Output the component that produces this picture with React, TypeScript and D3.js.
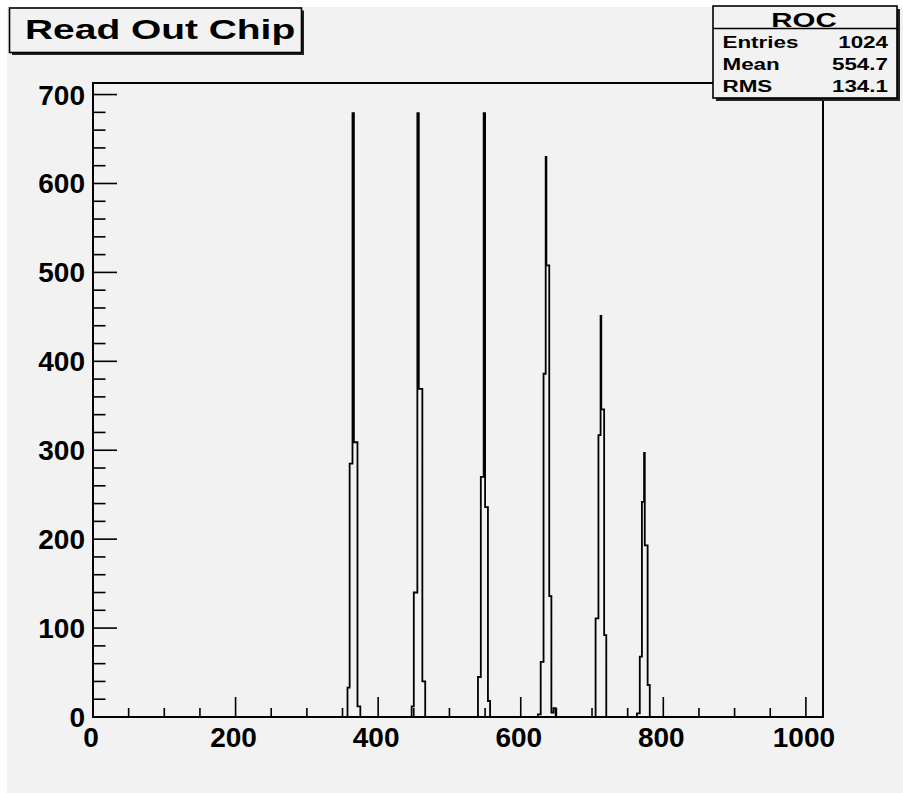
import React from 'react';
import * as d3 from 'd3';

// ---- data (histogram with 1024 bins over [0, 1024]) ----
const NBINS = 1024;
const X_DOMAIN = [0, 1024];
const Y_MAX = 713;
const xMajorTicks = [0, 200, 400, 600, 800, 1000];
const xMinorTicks = [50, 100, 150, 250, 300, 350, 450, 500, 550, 650, 700, 750, 850, 900, 950];
const yMajorTicks = [0, 100, 200, 300, 400, 500, 600, 700];
const yMinorTicks = [20, 40, 60, 80, 120, 140, 160, 180, 220, 240, 260, 280, 320, 340, 360, 380, 420, 440, 460, 480, 520, 540, 560, 580, 620, 640, 660, 680];

// runs of consecutive bins sharing the same content (first bin, last bin, count)
const runFirst = [357, 360, 364, 366, 371, 447, 450, 455, 457, 462, 540, 544, 548, 550, 554, 624, 628, 632, 635, 636, 640, 643, 646, 705, 709, 712, 713, 717, 763, 767, 770, 773, 774, 778];
const runLast = [359, 363, 365, 370, 374, 449, 454, 456, 461, 465, 543, 547, 549, 553, 556, 627, 631, 634, 635, 639, 642, 645, 648, 708, 711, 712, 716, 719, 766, 769, 772, 773, 777, 780];
const runCount = [33, 285, 679, 309, 12, 12, 140, 679, 369, 40, 45, 270, 679, 236, 18, 3, 62, 386, 630, 508, 136, 5, 10, 111, 317, 451, 346, 92, 4, 68, 242, 297, 193, 36];

const titleText = 'Read Out Chip';
const statsName = 'ROC';
const statsLabels = ['Entries', 'Mean', 'RMS'];
const statsValues = ['1024', '554.7', '134.1'];

const FONT = "'Liberation Sans', Arial, Helvetica, sans-serif";
const BG = '#f2f2f2';

export default function App() {
  const counts = new Array(NBINS).fill(0);
  runFirst.forEach((f, k) => {
    for (let b = f; b <= runLast[k]; b++) counts[b] = runCount[k];
  });

  const left = 93, right = 823, top = 83, bottom = 717;
  const x = d3.scaleLinear().domain(X_DOMAIN).range([left, right]);
  const y = d3.scaleLinear().domain([0, Y_MAX]).range([bottom, top]);

  const pts: [number, number][] = counts.map((c, i) => [i, c]);
  pts.push([NBINS, counts[NBINS - 1]]);
  const line = d3
    .line<[number, number]>()
    .x((d) => x(d[0]))
    .y((d) => y(d[1]))
    .curve(d3.curveStepAfter);
  const histPath = line(pts) || '';

  const stretch = 1.4;

  return (
    <svg
      width={903}
      height={793}
      style={{ position: 'absolute', left: 0, top: 0 }}
      fontFamily={FONT}
    >
      <rect x={0} y={0} width={903} height={793} fill="#ffffff" />
      <rect x={7} y={7} width={896} height={786} fill={BG} />

      {/* histogram */}
      <path d={histPath} fill="none" stroke="#000" strokeWidth={1.8} strokeLinejoin="miter" />

      {/* frame */}
      <rect x={left} y={top} width={right - left} height={bottom - top} fill="none" stroke="#000" strokeWidth={2} />

      {/* y ticks */}
      {yMajorTicks.map((v) => (
        <g key={'ym' + v}>
          <line x1={left} x2={left + 24} y1={y(v)} y2={y(v)} stroke="#000" strokeWidth={1.6} />
          <text x={85} y={y(v) + 10} textAnchor="end" fontSize={28} fontWeight="bold">
            {v}
          </text>
        </g>
      ))}
      {yMinorTicks.map((v) => (
        <line key={'yn' + v} x1={left} x2={left + 12.5} y1={y(v)} y2={y(v)} stroke="#000" strokeWidth={1.6} />
      ))}

      {/* x ticks */}
      {xMajorTicks.map((v) => (
        <g key={'xm' + v}>
          <line x1={x(v)} x2={x(v)} y1={bottom} y2={bottom - 20} stroke="#000" strokeWidth={1.6} />
          <text x={x(v) - 2} y={747} textAnchor="middle" fontSize={28} fontWeight="bold">
            {v}
          </text>
        </g>
      ))}
      {xMinorTicks.map((v) => (
        <line key={'xn' + v} x1={x(v)} x2={x(v)} y1={bottom} y2={bottom - 9} stroke="#000" strokeWidth={1.6} />
      ))}

      {/* title box */}
      <rect x={12} y={10.5} width={292} height={44.5} fill="#222" />
      <rect x={9.5} y={8} width={292} height={44.5} fill={BG} stroke="#000" strokeWidth={1.6} />
      <text
        transform={`translate(25,38.5) scale(${stretch * 0.993},1)`}
        fontSize={28}
        fontWeight="bold"
      >
        {titleText}
      </text>

      {/* stats box */}
      <rect x={716} y={9} width={184} height={92} fill="#222" />
      <rect x={713} y={6} width={184} height={92} fill={BG} stroke="#000" strokeWidth={1.6} />
      <line x1={713} x2={897} y1={28.5} y2={28.5} stroke="#000" strokeWidth={1.4} />
      <text transform={`translate(804,26.5) scale(${stretch},1)`} textAnchor="middle" fontSize={21} fontWeight="bold">
        {statsName}
      </text>
      {statsLabels.map((lab, i) => (
        <g key={lab}>
          <text
            transform={`translate(722.5,${47.5 + i * 22.2}) scale(${stretch},1)`}
            fontSize={16}
            fontWeight="bold"
          >
            {lab}
          </text>
          <text
            transform={`translate(888,${47.5 + i * 22.2}) scale(${stretch},1)`}
            textAnchor="end"
            fontSize={16}
            fontWeight="bold"
          >
            {statsValues[i]}
          </text>
        </g>
      ))}
    </svg>
  );
}
